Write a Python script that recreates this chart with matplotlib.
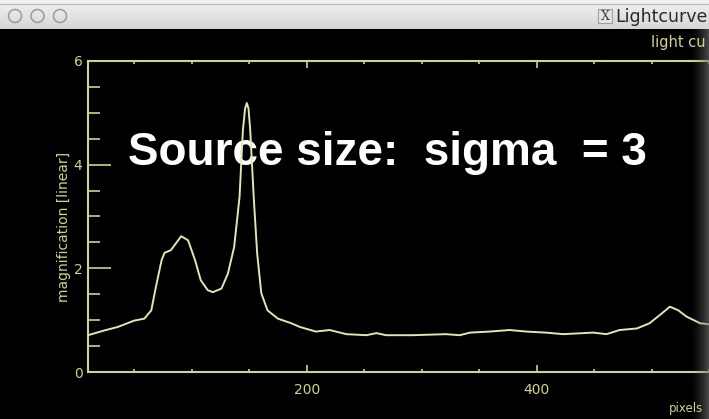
import numpy as np
import matplotlib.pyplot as plt
from matplotlib.patches import Circle, Rectangle

# light curve
pix = [10, 24, 36, 50, 59, 65, 69, 74, 76.5, 82, 91, 97, 103, 108, 114, 118.5,
       126, 131.6, 137, 141.7, 144.6, 146.5, 148, 149.5, 151, 154, 157, 160.6,
       166, 175, 186.7, 194, 208, 220, 234.5, 252, 260.6, 269, 292, 321, 333,
       342, 359, 376.5, 391, 408, 423, 449, 460.6, 472, 487, 498, 507, 515.7,
       523, 530, 542, 550, 560]
mag = [0.71, 0.80, 0.87, 0.99, 1.03, 1.19, 1.64, 2.16, 2.30, 2.35, 2.62, 2.54,
       2.16, 1.77, 1.58, 1.54, 1.61, 1.90, 2.41, 3.38, 4.66, 5.08, 5.19, 5.08,
       4.66, 3.38, 2.29, 1.52, 1.19, 1.03, 0.94, 0.87, 0.78, 0.81, 0.73, 0.71,
       0.75, 0.71, 0.71, 0.73, 0.71, 0.76, 0.78, 0.81, 0.78, 0.76, 0.73, 0.76,
       0.73, 0.81, 0.84, 0.94, 1.10, 1.26, 1.19, 1.07, 0.94, 0.92, 0.90]

x_major = [200, 400]
x_minor = [50, 100, 150, 250, 300, 350, 450, 500, 550]
y_major = [0, 2, 4, 6]
y_minor = [0.5, 1, 1.5, 2.5, 3, 3.5, 4.5, 5, 5.5]

W, H = 709, 419
yel = '#d2d28a'
line_col = '#e4e4b0'


def fx(p):
    return p / W


def fy(p):
    return 1 - p / H


fig = plt.figure(figsize=(W / 100, H / 100), dpi=100, facecolor='black')

ax = fig.add_axes([fx(88), fy(372), (760 - 88) / W, (372 - 61) / H])
ax.set_facecolor('black')
ax.plot(pix, mag, color=line_col, lw=1.4, zorder=3)
ax.set_xlim(10, 594)
ax.set_ylim(0, 6)
for s in ax.spines.values():
    s.set_color(yel)
    s.set_linewidth(1.5)

ax.set_xticks(x_major)
ax.set_xticks(x_minor, minor=True)
ax.set_yticks(y_major)
ax.set_yticks(y_minor, minor=True)
ax.tick_params(axis='x', which='major', direction='in', length=5, width=1.2,
               color=yel, labelcolor=yel, labelsize=10, pad=8, top=True)
ax.tick_params(axis='x', which='minor', direction='in', length=2.5, width=1.2,
               color=yel, top=True)
ax.tick_params(axis='y', which='major', direction='in', length=16.5, width=1.2,
               color=yel, labelcolor=yel, labelsize=10, pad=4)
ax.tick_params(axis='y', which='minor', direction='in', length=8.5, width=1.2,
               color=yel)

# overlay caption, sits under the curve
ax.text(fx(128), fy(165), 'Source size:  sigma  = 3', transform=fig.transFigure,
        color='white', fontsize=33, fontweight='bold', family='Liberation Sans',
        ha='left', va='baseline', zorder=1)

fig.text(fx(64), fy(227), 'magnification [linear]', rotation=90, color=yel,
         fontsize=10, ha='center', va='center')
fig.text(fx(669), fy(408), 'pixels', color=yel, fontsize=8.5, ha='left', va='center')
# window is cropped, only the start of the plot title shows
fig.text(fx(706), fy(42), 'light cu', color=yel, fontsize=10.5, ha='right', va='center')

# window title bar
tb = fig.add_axes([0, fy(29), 1, 29 / H])
tb.set_xlim(0, W)
tb.set_ylim(29, 0)
tb.axis('off')
grad = np.linspace(0.95, 0.84, 30).reshape(-1, 1)
tb.imshow(grad, cmap='gray', vmin=0, vmax=1, extent=(0, W, 29, 0), aspect='auto')
tb.axhline(4, color='#b8b8b8', lw=0.8)
for cx in [15, 37.5, 60]:
    tb.add_patch(Circle((cx, 16), 6.5, fill=False, ec='#9a9a9a', lw=1.1))
tb.add_patch(Rectangle((598, 9), 14, 14, fc='#e4e4e4', ec='#a0a0a0', lw=0.8))
tb.text(605, 16.5, 'X', ha='center', va='center', fontsize=9, family='DejaVu Serif',
        color='#404040')
tb.text(615, 16.5, 'Lightcurve', ha='left', va='center', fontsize=12.5,
        color='#2a2a2a', family='DejaVu Sans')

# shadow at the right edge of the captured window
sh = fig.add_axes([fx(690), 0, (W - 690) / W, fy(29)])
sh.axis('off')
rgba = np.zeros((1, 50, 4))
rgba[..., :3] = 0.45
rgba[..., 3] = np.linspace(0, 0.75, 50) ** 1.5
sh.imshow(rgba, extent=(0, 1, 0, 1), aspect='auto')

fig.savefig('out.png', dpi=100, facecolor='black')
